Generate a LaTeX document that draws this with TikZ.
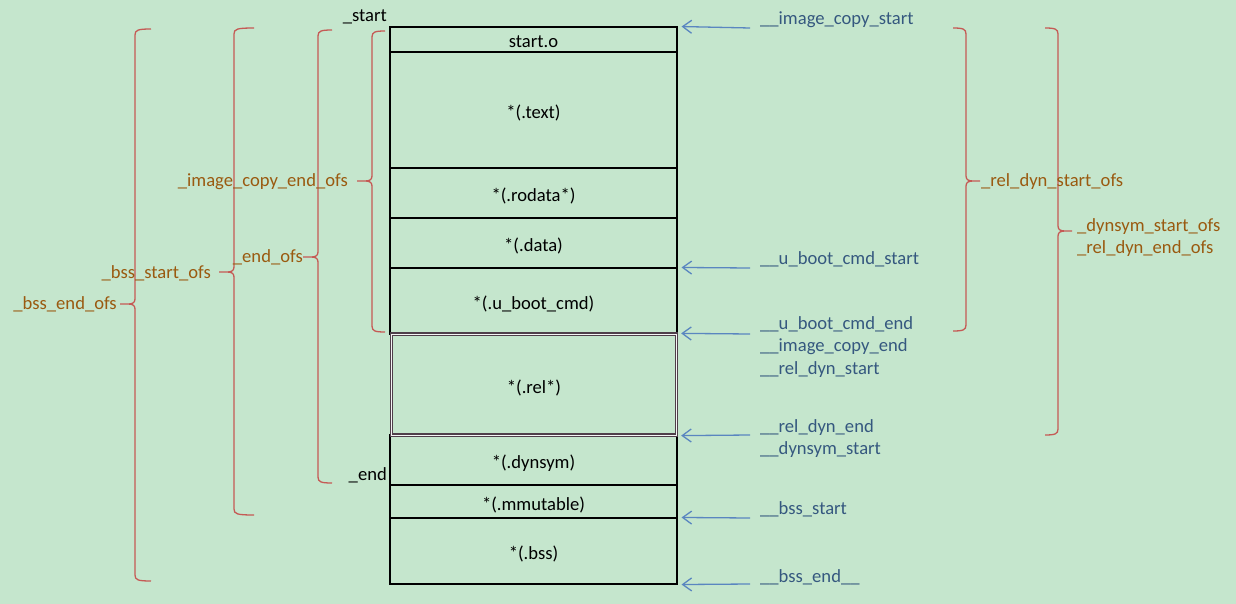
\documentclass[tikz,border=0pt]{standalone}
\usepackage{fontspec}
\setmainfont{Carlito}
\usetikzlibrary{arrows.meta,calc}
\definecolor{bgc}{HTML}{C5E6CD}
\definecolor{bracec}{HTML}{C55A55}
\definecolor{olblc}{HTML}{9A5A10}
\definecolor{blblc}{HTML}{35587F}
\definecolor{arrc}{HTML}{5A86C0}
\definecolor{relc}{HTML}{4F3F4A}
\newcommand\fsz{\fontsize{18.6}{22}\selectfont}
% left brace: #1 x of stem, #2 top y, #3 bottom y, #4 tip y, #5 x of curl ends
\newcommand\leftbrc[5]{%
  \draw[brc] (#5,#2) .. controls (#1+3,#2) and (#1,#2+1) .. (#1,#2+6) -- (#1,#4-5)
    .. controls (#1,#4-1) and (#1-3,#4) .. (#1-7,#4) -- (#1-15,#4)
    (#1-7,#4) .. controls (#1-3,#4) and (#1,#4+1) .. (#1,#4+5) -- (#1,#3-6)
    .. controls (#1,#3-1) and (#1+3,#3) .. (#5,#3);}
\newcommand\rightbrc[5]{%
  \draw[brc] (#5,#2) .. controls (#1-3,#2) and (#1,#2+1) .. (#1,#2+6) -- (#1,#4-5)
    .. controls (#1,#4-1) and (#1+3,#4) .. (#1+7,#4) -- (#1+14,#4)
    (#1+7,#4) .. controls (#1+3,#4) and (#1,#4+1) .. (#1,#4+5) -- (#1,#3-6)
    .. controls (#1,#3-1) and (#1-3,#3) .. (#5,#3);}
\tikzset{
  sect/.style={draw=black, line width=1.1pt, minimum width=287pt, inner sep=0pt, font=\fsz, text=black,
    text height=19pt, text depth=2pt},
  relsect/.style={sect, draw=relc, line width=1.3pt, double=white!92!gray, double distance=0.9pt},
  brc/.style={draw=bracec, line width=1.3pt},
  olbl/.style={text=olblc, font=\fsz, inner sep=0pt},
  blbl/.style={text=blblc, font=\fsz, inner sep=0pt, anchor=mid west},
  klbl/.style={text=black, font=\fsz, inner sep=0pt, anchor=mid east},
  ptr/.style={draw=arrc, line width=1.3pt, -{Straight Barb[length=9pt,width=13pt]}, shorten >=4pt}
}
\begin{document}
\begin{tikzpicture}[x=1pt,y=-1pt]
\fill[bgc] (0,0) rectangle (1236,604);
\useasboundingbox (0,0) rectangle (1236,604);

% memory sections
\node[sect, minimum height=25pt]  (starto) at (533.5,39.5) {start.o};
\node[sect, minimum height=116pt] (text)   at (533.5,110)  {*(.text)};
\node[sect, minimum height=50pt]  (rodata) at (533.5,193)  {*(.rodata*)};
\node[sect, minimum height=50pt]  (data)   at (533.5,243)  {*(.data)};
\node[sect, minimum height=66pt]  (uboot)  at (533.5,301)  {*(.u\_boot\_cmd)};
\node[sect, minimum height=50pt]  (dynsym) at (533.5,460)  {*(.dynsym)};
\node[sect, minimum height=33pt]  (mmut)   at (533.5,501.5){*(.mmutable)};
\node[sect, minimum height=66pt]  (bss)    at (533.5,551)  {*(.bss)};
\node[relsect, minimum height=101pt, minimum width=285pt] (rel) at (534,384.5) {*(.rel*)};

% symbol labels on the left of the box
\node[klbl] (lstart) at (387,19) {\_start};
\node[klbl] (lend)   at (387,478) {\_end};

% arrows and symbol labels on the right
\coordinate (a1) at (750,28);
\coordinate (a2) at (750,268);
\coordinate (a3) at (750,334);
\coordinate (a4) at (750,435);
\coordinate (a5) at (750,518);
\coordinate (a6) at (750,584);
\draw[ptr] (a1) -- (starto.north east);
\draw[ptr] (a2) -- (uboot.north east);
\draw[ptr] (a3) -- (rel.north east);
\draw[ptr] (a4) -- (rel.south east);
\draw[ptr] (a5) -- (bss.north east);
\draw[ptr] (a6) -- (bss.south east);

\node[blbl] (s1) at (760,22)  {\_\_image\_copy\_start};
\node[blbl] (s2) at (760,262) {\_\_u\_boot\_cmd\_start};
\node[blbl] (s3) at (760,327) {\_\_u\_boot\_cmd\_end};
\node[blbl] (s4) at (760,349) {\_\_image\_copy\_end};
\node[blbl] (s5) at (760,372) {\_\_rel\_dyn\_start};
\node[blbl] (s6) at (760,430) {\_\_rel\_dyn\_end};
\node[blbl] (s7) at (760,452) {\_\_dynsym\_start};
\node[blbl] (s8) at (760,512) {\_\_bss\_start};
\node[blbl] (s9) at (760,580) {\_\_bss\_end\_\_};

% left braces
\leftbrc{372}{31}{332}{181}{385}
\leftbrc{318}{30}{483}{257}{332}
\leftbrc{234}{28}{515}{272}{254}
\leftbrc{135}{29}{581}{304}{151}
\node[olbl, anchor=mid east] (o1) at (348,184) {\_image\_copy\_end\_ofs};
\node[olbl, anchor=mid east] (o2) at (303,260) {\_end\_ofs};
\node[olbl, anchor=mid east] (o3) at (211,276) {\_bss\_start\_ofs};
\node[olbl, anchor=mid east] (o4) at (117,307) {\_bss\_end\_ofs};

% right braces
\rightbrc{966}{28}{331}{181}{953}
\rightbrc{1058}{28}{435}{231}{1045}
\node[olbl, anchor=mid west] (o5) at (981,184)  {\_rel\_dyn\_start\_ofs};
\node[olbl, anchor=mid west] (o6) at (1077,229) {\_dynsym\_start\_ofs};
\node[olbl, anchor=mid west] (o7) at (1077,251) {\_rel\_dyn\_end\_ofs};
\end{tikzpicture}
\end{document}
